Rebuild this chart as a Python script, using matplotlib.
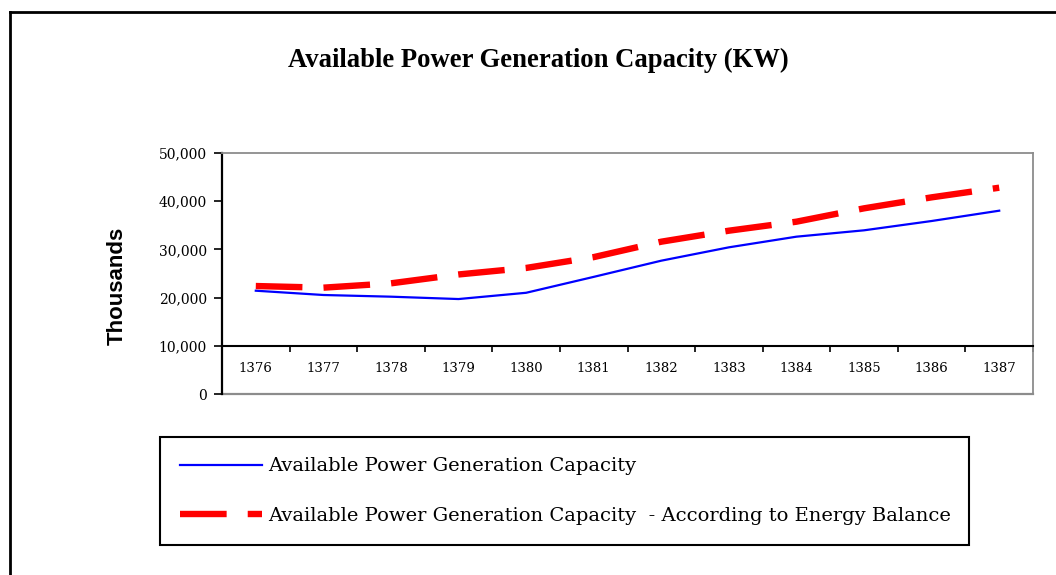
import matplotlib
matplotlib.use("Agg")
import matplotlib.pyplot as plt
from matplotlib.lines import Line2D
from matplotlib.ticker import FuncFormatter, FixedLocator

years = ["1376", "1377", "1378", "1379", "1380", "1381", "1382", "1383", "1384", "1385", "1386", "1387"]
available = [21430, 20540, 20190, 19700, 21000, 24300, 27660, 30430, 32640, 33960, 35890, 38030]
balance = [22400, 22060, 22960, 24800, 26150, 28400, 31600, 33880, 35750, 38520, 40800, 42800]
yticks = [0, 10000, 20000, 30000, 40000, 50000]

title = "Available Power Generation Capacity (KW)"
ylabel = "Thousands"
label_a = "Available Power Generation Capacity"
label_b = "Available Power Generation Capacity  - According to Energy Balance"

W, H = 1056, 575
fig = plt.figure(figsize=(W / 100, H / 100), dpi=100)
ax = fig.add_axes([222 / W, 1 - 394 / H, (1033 - 222) / W, (394 - 153) / H])

x = list(range(len(years)))
ax.plot(x, available, color="#0000ff", lw=1.6, solid_joinstyle="round")
ax.plot(x, balance, color="#ff0000", lw=4.6, dashes=(7.3, 3.3), dash_capstyle="butt")

ax.set_xlim(-0.5, len(years) - 0.5)
ax.set_ylim(0, 50000)
ax.set_yticks(yticks)
ax.yaxis.set_major_formatter(FuncFormatter(lambda v, p: f"{int(v):,}"))

serif = "DejaVu Serif"
ax.tick_params(axis="y", direction="out", length=6, width=1.2, pad=5,
               labelsize=10, color="black")
for t in ax.get_yticklabels():
    t.set_fontfamily(serif)

# category axis crossing at 10,000
ax.spines["bottom"].set_position(("data", 10000))
ax.spines["bottom"].set_color("black")
ax.spines["bottom"].set_linewidth(1.5)
ax.spines["left"].set_color("black")
ax.spines["left"].set_linewidth(1.6)
for s in ["top", "right"]:
    ax.spines[s].set_color("#8c8c8c")
    ax.spines[s].set_linewidth(1.3)
ax.axhline(0, color="#8c8c8c", lw=1.6, zorder=0.5, clip_on=False)

ax.set_xticks(x)
ax.set_xticklabels(years, fontfamily=serif, fontsize=9.5)
ax.xaxis.set_minor_locator(FixedLocator([i + 0.5 for i in x]))
ax.tick_params(axis="x", which="major", length=0, pad=12)
ax.tick_params(axis="x", which="minor", length=4, width=1.2, direction="out", color="black")

fig.text(117 / W, 1 - 286 / H, ylabel, rotation=90, ha="center", va="center",
         fontfamily="Liberation Sans", fontweight="bold", fontsize=16)

fig.text(538.5 / W, 1 - 60 / H, title, ha="center", va="center",
         fontfamily="Liberation Serif", fontweight="bold", fontsize=19.2)

handles = [Line2D([], [], color="#0000ff", lw=1.6),
           Line2D([], [], color="#ff0000", lw=4.6, dashes=(7.3, 3.3), dash_capstyle="butt")]
leg = fig.legend(handles, [label_a, label_b], loc="upper left",
                 bbox_to_anchor=(160 / W, 1 - 545 / H, (969 - 160) / W, (545 - 437) / H),
                 mode="expand", borderaxespad=0, fancybox=False, framealpha=1,
                 handlelength=4.2, handletextpad=0.32, labelspacing=1.6, borderpad=1.05,
                 prop={"family": serif, "size": 14})
leg.get_frame().set_edgecolor("black")
leg.get_frame().set_linewidth(1.5)

# outer chart border (left and top edges visible)
fig.add_artist(Line2D([10 / W, 10 / W], [0, 1 - 12 / H], transform=fig.transFigure,
                      color="black", lw=2))
fig.add_artist(Line2D([10 / W, 1], [1 - 12 / H, 1 - 12 / H], transform=fig.transFigure,
                      color="black", lw=2))

fig.savefig("out.png", dpi=100)
